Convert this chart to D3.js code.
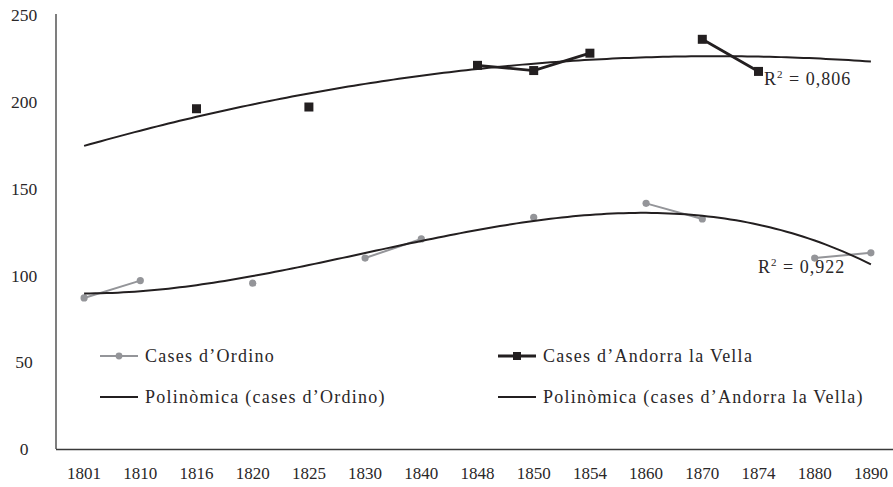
<!DOCTYPE html>
<html>
<head>
<meta charset="utf-8">
<script src="https://cdn.jsdelivr.net/npm/d3@7"></script>
<style>
  body { margin: 0; background: #fff; }
  svg text { font-family: "Liberation Serif", "DejaVu Serif", serif; fill: #2a2728; }
</style>
</head>
<body>
<div id="chart"></div>
<script>
// ============================
// Data
// ============================
const years = ["1801", "1810", "1816", "1820", "1825", "1830", "1840", "1848",
               "1850", "1854", "1860", "1870", "1874", "1880", "1890"];
// null = no value for that year
const ordino = [87, 97, null, 95.5, null, 110, 121, null, 133.5, null, 141.5, 132.5, null, 110, 113];
const andorra = [null, null, 196, null, 197, null, null, 221, 218, 228, null, 236, 217.5, null, null];
const yTicks = [0, 50, 100, 150, 200, 250];
const labelOrdino = "Cases d\u2019Ordino";
const labelAndorra = "Cases d\u2019Andorra la Vella";
const labelTrendOrdino = "Polin\u00f2mica (cases d\u2019Ordino)";
const labelTrendAndorra = "Polin\u00f2mica (cases d\u2019Andorra la Vella)";
const r2Ordino = "0,922";
const r2Andorra = "0,806";

const width = 893, height = 487;
const grey = "#949599", ink = "#231f20";

const svg = d3.select("#chart").append("svg")
  .attr("width", width).attr("height", height);

const x = d3.scaleBand().domain(years).range([56, 899]);
const y = d3.scaleLinear().domain([0, 250]).range([449, 15]);
const cx = d => x(d) + x.bandwidth() / 2;

// ============================
// Polynomial trend (least squares on category index 1..n, like Excel)
// ============================
function polyFit(vals, degree) {
  const pts = vals.map((v, i) => [i + 1, v]).filter(p => p[1] != null);
  const n = degree + 1;
  const A = Array.from({length: n}, () => new Array(n + 1).fill(0));
  pts.forEach(([xi, yi]) => {
    for (let r = 0; r < n; r++) {
      for (let c = 0; c < n; c++) A[r][c] += Math.pow(xi, r + c);
      A[r][n] += yi * Math.pow(xi, r);
    }
  });
  for (let i = 0; i < n; i++) {
    let p = i;
    for (let k = i + 1; k < n; k++) if (Math.abs(A[k][i]) > Math.abs(A[p][i])) p = k;
    [A[i], A[p]] = [A[p], A[i]];
    for (let k = i + 1; k < n; k++) {
      const f = A[k][i] / A[i][i];
      for (let c = i; c <= n; c++) A[k][c] -= f * A[i][c];
    }
  }
  const coef = new Array(n).fill(0);
  for (let i = n - 1; i >= 0; i--) {
    let s = A[i][n];
    for (let c = i + 1; c < n; c++) s -= A[i][c] * coef[c];
    coef[i] = s / A[i][i];
  }
  return t => coef.reduce((acc, c, k) => acc + c * Math.pow(t, k), 0);
}

const fitOrdino = polyFit(ordino, 3);
const fitAndorra = polyFit(andorra, 2);

// sample the fitted curve along the category positions
const step = x.step();
const x0 = cx(years[0]);
const trendPts = f => d3.range(1, years.length + 0.001, 0.1).map(t => [x0 + (t - 1) * step, y(f(t))]);

// ============================
// Axes
// ============================
svg.append("line")
  .attr("x1", 56).attr("x2", 56).attr("y1", y(250) - 1).attr("y2", y(0))
  .attr("stroke", "#3a3a3a").attr("stroke-width", 1.3);
svg.append("line")
  .attr("x1", 56).attr("x2", width).attr("y1", y(0) + 0.5).attr("y2", y(0) + 0.5)
  .attr("stroke", "#3a3a3a").attr("stroke-width", 1.3);

svg.append("g").selectAll("text")
  .data(yTicks).join("text")
  .attr("x", 24).attr("y", d => y(d))
  .attr("dy", "0.35em")
  .attr("text-anchor", "middle")
  .attr("font-size", 17.5)
  .text(d => d);

svg.append("g").selectAll("text")
  .data(years).join("text")
  .attr("x", d => cx(d)).attr("y", 473)
  .attr("dy", "0.35em")
  .attr("text-anchor", "middle")
  .attr("font-size", 17)
  .text(d => d);

// ============================
// Series
// ============================
const line = d3.line()
  .defined(d => d.v != null)
  .x(d => cx(d.year))
  .y(d => y(d.v));

const ordData = years.map((yr, i) => ({year: yr, v: ordino[i]}));
const andData = years.map((yr, i) => ({year: yr, v: andorra[i]}));

svg.append("path").datum(ordData)
  .attr("d", line).attr("fill", "none")
  .attr("stroke", grey).attr("stroke-width", 2);
svg.append("g").selectAll("circle")
  .data(ordData.filter(d => d.v != null)).join("circle")
  .attr("cx", d => cx(d.year)).attr("cy", d => y(d.v))
  .attr("r", 3.6).attr("fill", grey);

// trendlines
svg.append("path")
  .attr("d", d3.line()(trendPts(fitOrdino)))
  .attr("fill", "none").attr("stroke", ink).attr("stroke-width", 2);
svg.append("path")
  .attr("d", d3.line()(trendPts(fitAndorra)))
  .attr("fill", "none").attr("stroke", ink).attr("stroke-width", 2);

svg.append("path").datum(andData)
  .attr("d", line).attr("fill", "none")
  .attr("stroke", ink).attr("stroke-width", 2.8);
svg.append("g").selectAll("rect")
  .data(andData.filter(d => d.v != null)).join("rect")
  .attr("x", d => cx(d.year) - 4.5).attr("y", d => y(d.v) - 4.5)
  .attr("width", 9).attr("height", 9).attr("fill", ink);

// R² labels
function r2Label(px, py, val) {
  const t = svg.append("text").attr("x", px).attr("y", py)
    .attr("font-size", 18).attr("letter-spacing", 1);
  t.append("tspan").text("R");
  t.append("tspan").attr("font-size", 11).attr("dy", -7).text("2");
  t.append("tspan").attr("dy", 7).text(" = " + val);
}
r2Label(764, 85, r2Andorra);
r2Label(758, 273, r2Ordino);

// ============================
// Legend
// ============================
const legend = [
  {label: labelOrdino, x: 100, y: 356, color: grey, mark: "circle", w: 2},
  {label: labelAndorra, x: 498, y: 356, color: ink, mark: "rect", w: 2.8},
  {label: labelTrendOrdino, x: 100, y: 397, color: ink, mark: null, w: 2},
  {label: labelTrendAndorra, x: 498, y: 397, color: ink, mark: null, w: 2}
];
const lg = svg.append("g").selectAll("g").data(legend).join("g")
  .attr("transform", d => `translate(${d.x},${d.y})`);
lg.append("line").attr("x1", 0).attr("x2", 38)
  .attr("stroke", d => d.color).attr("stroke-width", d => d.w);
lg.filter(d => d.mark === "circle").append("circle")
  .attr("cx", 19).attr("r", 3.4).attr("fill", d => d.color);
lg.filter(d => d.mark === "rect").append("rect")
  .attr("x", 15).attr("y", -4).attr("width", 8).attr("height", 8).attr("fill", d => d.color);
lg.append("text").attr("x", 45).attr("dy", "0.33em")
  .attr("font-size", 18).attr("letter-spacing", 1.25).text(d => d.label);
</script>
</body>
</html>
